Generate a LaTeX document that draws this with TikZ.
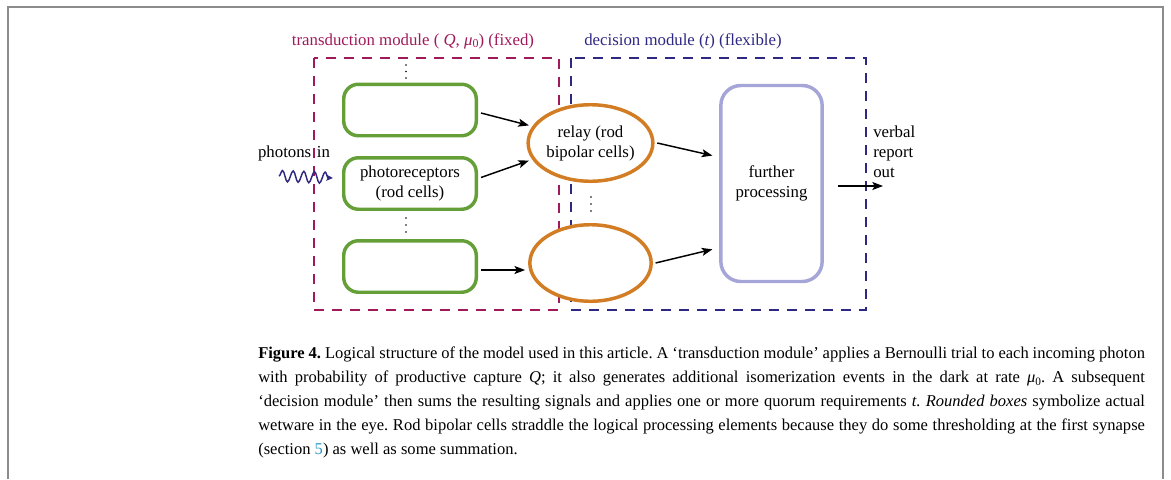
\documentclass[tikz,border=0pt]{standalone}
\usepackage{fontspec}
\setmainfont{Liberation Serif}
\usetikzlibrary{shapes.geometric,arrows.meta,decorations.pathmorphing,calc}
\definecolor{magen}{RGB}{160,25,90}
\definecolor{navy}{RGB}{45,40,130}
\definecolor{grn}{RGB}{100,160,55}
\definecolor{orng}{RGB}{210,125,35}
\definecolor{lav}{RGB}{165,165,215}
\definecolor{frm}{RGB}{140,140,140}
\definecolor{linkc}{RGB}{40,150,200}
\begin{document}
\begin{tikzpicture}[x=0.75pt,y=-0.75pt,
  font=\fontsize{12.6}{15}\selectfont,
  rodbox/.style={draw=grn,line width=2.6pt,rounded corners=11pt,minimum width=99.4pt,minimum height=38.6pt,inner sep=0pt,align=center},
  bipell/.style={ellipse,draw=orng,fill=white,line width=2.6pt,minimum width=91pt,minimum height=57.4pt,inner sep=0pt,align=center},
  procbox/.style={draw=lav,line width=2.6pt,rounded corners=15pt,minimum width=76pt,minimum height=147pt,inner sep=0pt,align=center},
  modbox/.style={line width=1.5pt,dash pattern=on 7.5pt off 6pt},
  conn/.style={line width=1.1pt,-{Stealth[length=8pt,width=6pt,inset=1.8pt]}},
  dotc/.style={circle,fill=black,inner sep=0pt,minimum size=1.3pt}]
\useasboundingbox (0,0) rectangle (1171,479);
% frame
\draw[frm,line width=1.2pt] (8,479) -- (8,7) -- (1163,7) -- (1163,479);
% module boxes
\draw[modbox,draw=magen] (314,58) rectangle (559,310);
\draw[modbox,draw=navy] (571,58) rectangle (866,310);
\node[text=magen] (lbltrans) at (413,41) {transduction module ( {\itshape Q}, {\itshape μ}\raisebox{-0.35ex}{\fontsize{9}{9}\selectfont 0}) (fixed)};
\node[text=navy] (lbldec) at (683,41) {decision module ({\itshape t}) (flexible)};
% rods
\node[rodbox] (box1) at (410,110) {};
\node[rodbox] (box2) at (410,183.5) {photoreceptors\\(rod cells)};
\node[rodbox] (box3) at (410,266.5) {};
\foreach \yy [count=\i] in {65,71.5,78} {\node[dotc] (da\i) at (406,\yy) {};}
\foreach \yy [count=\i] in {218,225,232} {\node[dotc] (db\i) at (406,\yy) {};}
% bipolar
\node[bipell] (relay) at (590.5,143) {relay (rod\\bipolar cells)};
\node[bipell] (bip2) at (590.5,263) {};
\foreach \yy [count=\i] in {197,204,211} {\node[dotc] (dc\i) at (591,\yy) {};}
% processing
\node[procbox] (proc) at (771.5,183.5) {further\\processing};
% photons
\node (phot) at (294,153) {photons\,\,in};
\coordinate (photstart) at (279,176);
\coordinate (photend) at (333,178);
\draw[navy,line width=1.1pt,-{Stealth[length=5pt,width=4.5pt,inset=1pt]},decorate,decoration={snake,amplitude=4.2pt,segment length=8pt,post length=3pt}] (photstart) -- (photend);
% connectors
\draw[conn] ([shift={(3,3)}]box1.east) -- ([shift={(-4,0)}]relay.163);
\draw[conn] ([shift={(3,-6)}]box2.east) -- ([shift={(-4,0)}]relay.197);
\draw[conn] ([shift={(3,3.5)}]box3.east) -- ([shift={(-3,3.5)}]box3.east -| bip2.west);
\draw[conn] ([xshift=2pt]relay.east) -- ([xshift=-5pt]$(proc.north west)!0.36!(proc.south west)$);
\draw[conn] ([xshift=2pt]bip2.east) -- ([xshift=-5pt]$(proc.north west)!0.83!(proc.south west)$);
\coordinate (outend) at (883,186);
\draw[conn] (proc.east |- outend) ++(14,0) -- (outend);
\node[anchor=west,align=left,inner sep=0pt,font=\fontsize{12.6}{15}\selectfont] (verbal) at (873,152) {verbal\\report\\out};
% caption
\node[anchor=north west,inner sep=0pt,text width=665pt,align=justify,font=\fontsize{12.4}{18}\selectfont\frenchspacing] (cap) at (258,347) {\textbf{Figure 4.} Logical structure of the model used in this article. A ‘transduction module’ applies a Bernoulli trial to each incoming photon\linebreak with probability of productive capture \textit{Q}; it also generates additional isomerization events in the dark at rate \textit{μ}\raisebox{-0.35ex}{\fontsize{8.5}{8.5}\selectfont 0}. A subsequent\linebreak ‘decision module’ then sums the resulting signals and applies one or more quorum requirements \textit{t. Rounded boxes} symbolize actual\linebreak wetware in the eye. Rod bipolar cells straddle the logical processing elements because they do some thresholding at the first synapse\linebreak (section \textcolor{linkc}{5}) as well as some summation.};
\end{tikzpicture}
\end{document}
